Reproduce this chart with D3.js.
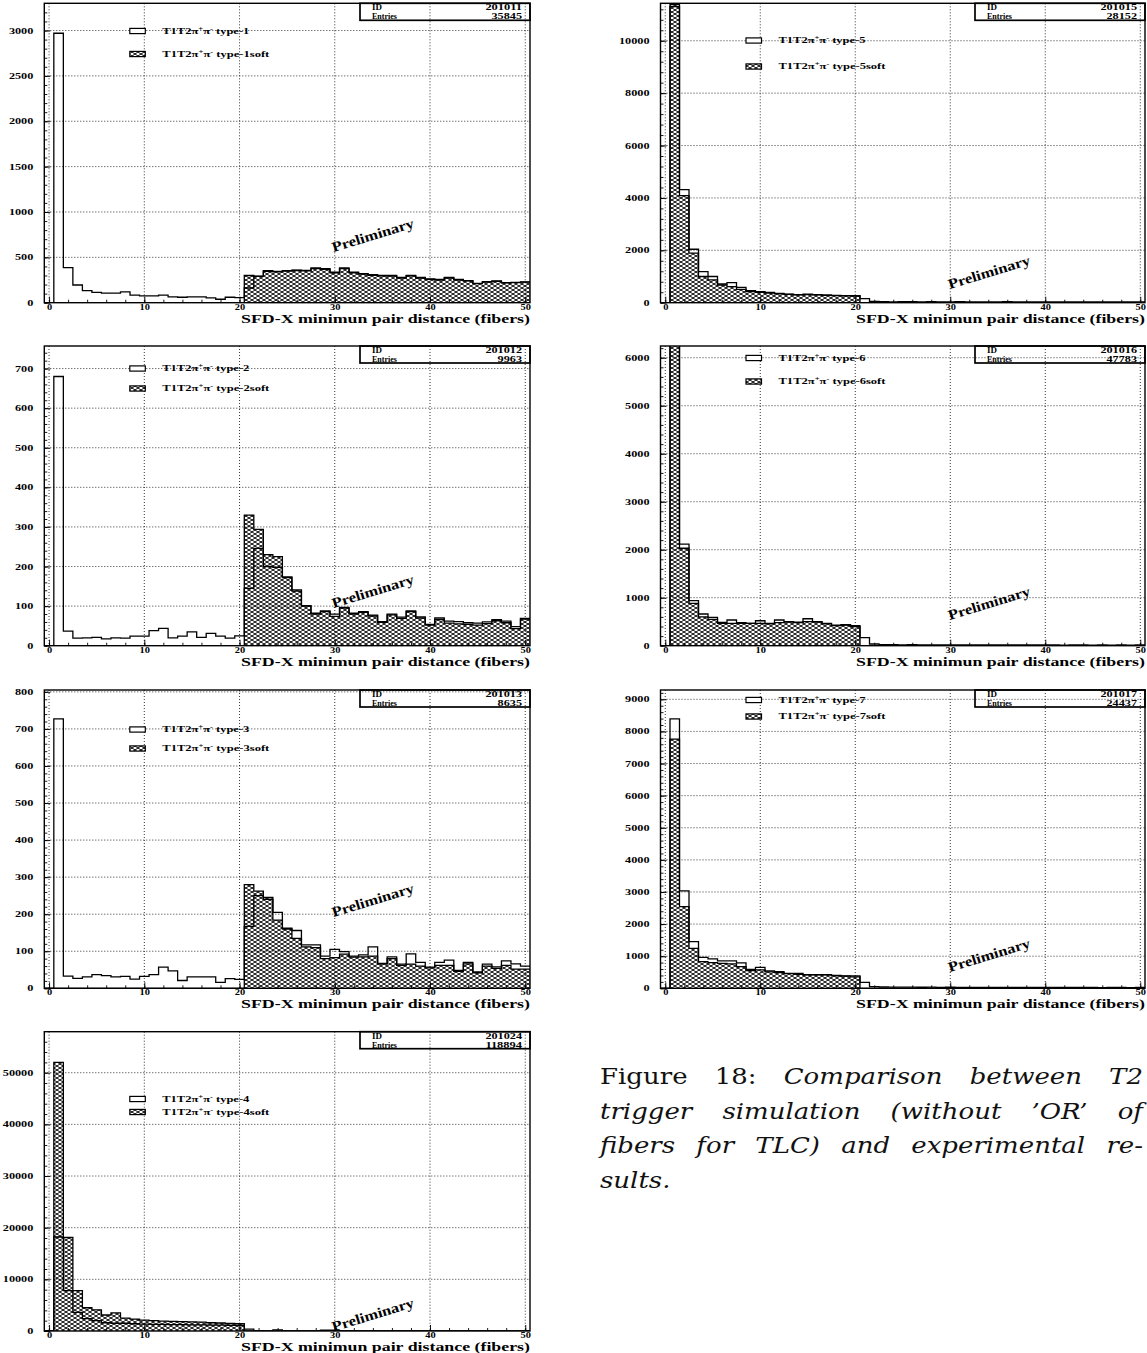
<!DOCTYPE html>
<html><head><meta charset="utf-8">
<script src="https://cdn.jsdelivr.net/npm/d3@7"></script>
<style>body{margin:0;background:#fff}svg{display:block}</style>
</head><body>
<svg id="c" width="1147" height="1353"></svg>
<script>
// ---------------- DATA ----------------
const bins = [0,1,2,3,4,5,6,7,8,9,10,11,12,13,14,15,16,17,18,19,20,21,22,23,24,25,26,27,28,29,30,31,32,33,34,35,36,37,38,39,40,41,42,43,44,45,46,47,48,49,50];
const xTicks = [0,10,20,30,40,50];

const type1 = [0,2970,387,195,132,113,105,105,120,83,75,75,83,64,60,64,64,53,38,60,56,162,293,353,346,353,360,357,383,376,338,383,338,320,308,300,300,278,300,278,263,256,278,256,244,214,233,240,222,225,229];
const type1soft = [0,0,0,0,0,0,0,0,0,0,0,0,0,0,0,0,0,0,0,0,0,300,290,345,340,348,355,350,375,368,330,375,330,315,302,295,292,272,295,272,258,250,270,250,240,210,228,235,218,222,226];

const type2 = [0,680,37,19,20,21,17,20,19,24,24,38,44,20,24,35,21,31,24,19,25,145,246,200,198,172,138,100,82,88,80,97,82,86,77,61,80,72,88,73,54,70,62,61,58,57,60,66,62,48,69];
const type2soft = [0,0,0,0,0,0,0,0,0,0,0,0,0,0,0,0,0,0,0,0,0,330,294,230,225,174,141,101,80,86,74,95,80,84,75,59,78,69,86,70,52,66,57,55,54,52,56,63,58,43,67];

const type3 = [0,727,33,27,31,37,34,31,32,25,32,37,57,47,21,31,31,31,16,26,24,167,250,240,205,162,156,117,117,87,105,99,87,90,112,67,85,65,93,70,57,70,76,48,70,44,65,58,74,66,60];
const type3soft = [0,0,0,0,0,0,0,0,0,0,0,0,0,0,0,0,0,0,0,0,0,280,262,245,184,160,135,112,110,80,83,92,84,85,87,65,80,62,65,60,55,62,62,46,66,42,60,54,62,52,52];

const type4 = [0,18200,7800,3600,2400,2000,1600,1500,1500,1400,1350,1300,1300,1250,1250,1200,1200,1150,1150,1100,1100,380,60,40,200,40,30,30,35,150,150,40,30,30,25,30,25,30,25,20,25,20,25,20,20,25,20,20,25,20,20];
const type4soft = [0,52000,18100,7800,4500,4100,3100,3500,2500,2300,2100,2000,1900,1850,1800,1750,1700,1600,1550,1450,1400,0,0,0,0,0,0,0,0,0,0,0,0,0,0,0,0,0,0,0,0,0,0,0,0,0,0,0,0,0,0];

const type5 = [0,11300,4320,2040,1185,1000,713,765,586,459,420,395,357,331,306,331,306,293,280,267,267,153,51,38,35,38,36,33,38,35,30,36,33,35,30,34,36,30,33,35,31,30,34,28,32,30,33,29,31,28,30];
const type5soft = [0,11380,4090,1890,1000,870,675,610,510,420,395,370,340,320,295,306,295,285,270,260,255,0,0,0,0,0,0,0,0,0,0,0,0,0,0,0,0,0,0,0,0,0,0,0,0,0,0,0,0,0,0];

const type6 = [0,6600,2118,938,660,590,486,535,480,465,520,465,535,500,493,562,500,465,430,437,417,167,35,22,20,18,20,17,19,18,16,18,17,15,18,16,17,15,16,18,15,16,14,17,15,14,16,13,15,14,16];
const type6soft = [0,6600,2030,880,600,550,465,465,465,465,465,455,480,490,480,500,490,455,420,430,396,0,0,0,0,0,0,0,0,0,0,0,0,0,0,0,0,0,0,0,0,0,0,0,0,0,0,0,0,0,0];

const type7 = [0,8390,3032,1454,966,914,852,852,789,592,654,540,519,467,467,426,426,426,405,384,384,187,52,40,38,36,35,33,35,30,32,30,31,28,30,29,27,30,28,26,28,27,30,26,25,27,24,26,25,24,26];
const type7soft = [0,7757,2544,1246,830,800,779,758,675,550,571,509,488,460,436,420,420,420,384,380,353,0,0,0,0,0,0,0,0,0,0,0,0,0,0,0,0,0,0,0,0,0,0,0,0,0,0,0,0,0,0];

const yTicks1 = [0,500,1000,1500,2000,2500,3000];
const yTicks2 = [0,100,200,300,400,500,600,700];
const yTicks3 = [0,100,200,300,400,500,600,700,800];
const yTicks4 = [0,10000,20000,30000,40000,50000];
const yTicks5 = [0,2000,4000,6000,8000,10000];
const yTicks6 = [0,1000,2000,3000,4000,5000,6000];
const yTicks7 = [0,1000,2000,3000,4000,5000,6000,7000,8000,9000];

const typeNames = ["1","2","3","4","5","6","7"];
const histIds = ["201011","201012","201013","201024","201015","201016","201017"];
const histEntries = ["35845","9963","8635","118894","28152","47783","24437"];
const axisTitle = "SFD-X minimun pair distance (fibers)";

// ---------------- LAYOUT ----------------
const panels = [
  {t:0, open:type1, soft:type1soft, yt:yTicks1, ymax:3300,  f:[44.3,3.3,530,302.7],    leg:[27.7,50.7], pre:67.7},
  {t:1, open:type2, soft:type2soft, yt:yTicks2, ymax:757,   f:[44.3,346,530,645.7],    leg:[22.5,42.5], pre:54.7},
  {t:2, open:type3, soft:type3soft, yt:yTicks3, ymax:805,   f:[44.3,690,530,988.3],    leg:[39.5,58.5], pre:88.3},
  {t:3, open:type4, soft:type4soft, yt:yTicks4, ymax:57940, f:[44.3,1031.7,530,1331],  leg:[67.3,80.3], pre:16.5},
  {t:4, open:type5, soft:type5soft, yt:yTicks5, ymax:11430, f:[660.5,3.3,1145,302.7],  leg:[37.2,63.2], pre:30.7},
  {t:5, open:type6, soft:type6soft, yt:yTicks6, ymax:6244,  f:[660.5,346,1145,645.7],  leg:[12,35.5],   pre:42.7},
  {t:6, open:type7, soft:type7soft, yt:yTicks7, ymax:9290,  f:[660.5,690,1145,988.3],  leg:[10,26.5],   pre:33.3}
];

const FONT = "'Liberation Serif','Times New Roman',serif";
const SG = "spacingAndGlyphs";
const svg = d3.select("#c");
const defs = svg.append("defs");
const pat = defs.append("pattern").attr("id","hatch").attr("patternUnits","userSpaceOnUse")
  .attr("width",6).attr("height",4);
pat.append("path").attr("d","M0,0L6,4M0,4L6,0M-1,3.33L1,4.67M5,-0.67L7,0.67M-1,0.67L1,-0.67M5,4.67L7,3.33")
  .attr("stroke","#000").attr("stroke-width",0.95).attr("fill","none");

function legendText(sel, name){
  sel.append("tspan").text("T1T2π");
  sel.append("tspan").attr("baseline-shift","super").attr("font-size","5.5px").text("+");
  sel.append("tspan").text("π");
  sel.append("tspan").attr("baseline-shift","super").attr("font-size","5.5px").text("-");
  sel.append("tspan").text(" type-"+name);
}

panels.forEach((p,k)=>{
  const [L,T,R,B] = p.f;
  const x = d3.scaleLinear().domain([-0.5,50.5]).range([L,R]);
  const y = d3.scaleLinear().domain([0,p.ymax]).range([B,T]);
  const g = svg.append("g");
  const cid = "clip"+k;
  defs.append("clipPath").attr("id",cid).append("rect")
    .attr("x",L).attr("y",T).attr("width",R-L).attr("height",B-T);

  const steps = vals => bins.map((b,i)=>({x:b-0.5, v:vals[i]}))
      .concat([{x:bins[bins.length-1]+0.5, v:vals[vals.length-1]}]);
  const area = d3.area().curve(d3.curveStepAfter).x(d=>x(d.x)).y0(y(0)).y1(d=>y(d.v));
  const line = d3.line().curve(d3.curveStepAfter).x(d=>x(d.x)).y(d=>y(d.v));

  const hg = g.append("g").attr("clip-path",`url(#${cid})`);
  hg.append("path").attr("d",area(steps(p.open))).attr("fill","#fff");
  hg.append("path").attr("d",area(steps(p.soft))).attr("fill","url(#hatch)");
  hg.append("path").attr("d",line(steps(p.soft))).attr("fill","none").attr("stroke","#000").attr("stroke-width",1.3);
  hg.append("path").attr("d",line(steps(p.open))).attr("fill","none").attr("stroke","#000").attr("stroke-width",1.3);

  // grid
  const gg = g.append("g").attr("stroke","#000").attr("stroke-width",0.8).attr("stroke-dasharray","1,2");
  gg.selectAll(".vx").data(xTicks).join("line").attr("x1",d=>x(d)).attr("x2",d=>x(d)).attr("y1",T).attr("y2",B);
  gg.selectAll(".hy").data(p.yt.filter(v=>v>0)).join("line").attr("x1",L).attr("x2",R).attr("y1",d=>y(d)).attr("y2",d=>y(d));

  // axes
  const step = p.yt[1]-p.yt[0];
  const minorY = d3.range(0, p.ymax, step/5);
  const ay = d3.axisLeft(y).tickValues(p.yt).tickSize(-6).tickPadding(11).tickFormat(d3.format("d"));
  const ayg = g.append("g").attr("transform",`translate(${L},0)`).call(ay);
  g.append("g").attr("transform",`translate(${L},0)`)
    .call(d3.axisLeft(y).tickValues(minorY).tickSize(-3).tickFormat(""));
  const ax = d3.axisBottom(x).tickValues(xTicks).tickSize(-6).tickPadding(1.5).tickFormat(d3.format("d"));
  const axg = g.append("g").attr("transform",`translate(0,${B})`).call(ax);
  g.append("g").attr("transform",`translate(0,${B})`)
    .call(d3.axisBottom(x).tickValues(d3.range(0,51,2)).tickSize(-3).tickFormat(""));
  g.selectAll(".domain").remove();
  g.selectAll(".tick line").attr("stroke","#000").attr("stroke-width",0.9);
  ayg.selectAll("text").attr("font-family",FONT).attr("font-weight","bold").attr("font-size","8px").attr("fill","#000")
     .attr("textLength",d=>String(d).length*6.1).attr("lengthAdjust",SG);
  axg.selectAll("text").attr("font-family",FONT).attr("font-weight","bold").attr("font-size","7.5px").attr("fill","#000")
     .attr("textLength",d=>String(d).length*5.2).attr("lengthAdjust",SG);

  // frame
  g.append("rect").attr("x",L).attr("y",T).attr("width",R-L).attr("height",B-T)
    .attr("fill","none").attr("stroke","#000").attr("stroke-width",1.4);

  // axis title
  g.append("text").attr("x",R).attr("y",B+20).attr("text-anchor","end")
    .attr("font-family",FONT).attr("font-weight","bold").attr("font-size","12px")
    .attr("textLength",289).attr("lengthAdjust",SG).text(axisTitle);

  // stat box
  const bx = R-170, bw = 170, bh = 17;
  g.append("rect").attr("x",bx).attr("y",T).attr("width",bw).attr("height",bh)
    .attr("fill","none").attr("stroke","#000").attr("stroke-width",1.7);
  const st = g.append("g").attr("font-family",FONT).attr("font-weight","bold").attr("font-size","7.5px");
  st.append("text").attr("x",bx+12).attr("y",T+7).attr("textLength",10).attr("lengthAdjust",SG).text("ID");
  st.append("text").attr("x",R-8).attr("y",T+7).attr("text-anchor","end")
    .attr("textLength",histIds[p.t].length*6.1).attr("lengthAdjust",SG).text(histIds[p.t]);
  st.append("text").attr("x",bx+12).attr("y",T+15.8).attr("textLength",25).attr("lengthAdjust",SG).text("Entries");
  st.append("text").attr("x",R-8).attr("y",T+15.8).attr("text-anchor","end")
    .attr("textLength",histEntries[p.t].length*6.1).attr("lengthAdjust",SG).text(histEntries[p.t]);

  // legend
  const lg = g.append("g");
  [0,1].forEach(j=>{
    const cy = T + p.leg[j];
    lg.append("rect").attr("x",L+85.5).attr("y",cy-2.6).attr("width",15.5).attr("height",5.2)
      .attr("fill", j===0 ? "#fff" : "url(#hatch)").attr("stroke","#000").attr("stroke-width",1.2);
    const tx = lg.append("text").attr("x",L+118).attr("y",cy+2.7)
      .attr("font-family",FONT).attr("font-weight","bold").attr("font-size","8px")
      .attr("textLength", j===0 ? 87 : 107).attr("lengthAdjust",SG);
    legendText(tx, typeNames[p.t] + (j===1 ? "soft" : ""));
  });

  // Preliminary
  const px = L + 328.5, py = B - p.pre;
  g.append("text").attr("transform",`translate(${px},${py}) rotate(-17)`).attr("text-anchor","middle")
    .attr("dy","0.35em").attr("font-family",FONT).attr("font-weight","bold").attr("font-size","14px")
    .attr("textLength",85).attr("lengthAdjust",SG).text("Preliminary");
});

// ---------------- CAPTION ----------------
const captionLines = [
  [["Figure",0],["18:",0],["Comparison",1],["between",1],["T2",1]],
  [["trigger",1],["simulation",1],["(without",1],["’OR’",1],["of",1]],
  [["fibers",1],["for",1],["TLC)",1],["and",1],["experimental",1],["re-",1]],
  [["sults.",1]]
];
const capX0 = 600, capX1 = 1143, capY0 = 1084, capDY = 34.6, capStretch = 1.13;
const CFONT = "'DejaVu Serif',serif";
captionLines.forEach((words,li)=>{
  const yy = capY0 + li*capDY;
  const els = words.map(([w,it])=> svg.append("text").attr("y",yy).attr("font-family",CFONT)
      .attr("font-size","23px").attr("font-style", it ? "italic" : "normal").attr("fill","#111").text(w));
  const widths = els.map(e=>{
    const w = e.node().getComputedTextLength()*capStretch;
    e.attr("textLength",w).attr("lengthAdjust",SG);
    return w;
  });
  const total = d3.sum(widths);
  const justify = li < captionLines.length-1;
  const gap = justify && words.length>1 ? (capX1-capX0-total)/(words.length-1) : 9;
  let cx = capX0;
  els.forEach((e,i)=>{ e.attr("x",cx); cx += widths[i] + gap; });
});
</script>
</body></html>
